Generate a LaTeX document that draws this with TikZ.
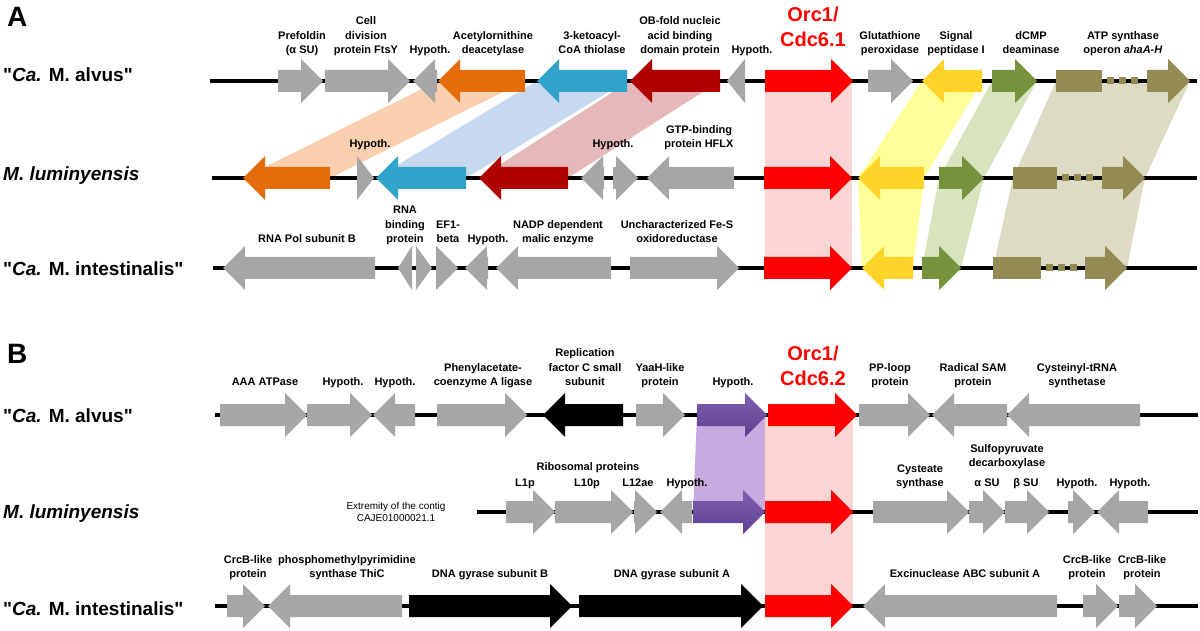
\documentclass[tikz,border=0pt]{standalone}
\usepackage{fontspec}
\setmainfont{Liberation Sans}
\newfontfamily\plainsans{Liberation Sans}
\usepackage{tikz}

\definecolor{genegray}{RGB}{166,166,166}
\definecolor{geneorange}{RGB}{228,108,10}
\definecolor{geneblue}{RGB}{49,163,202}
\definecolor{genedkred}{RGB}{176,0,0}
\definecolor{genered}{RGB}{255,0,0}
\definecolor{geneyellow}{RGB}{255,212,42}
\definecolor{genegreen}{RGB}{118,146,60}
\definecolor{geneolive}{RGB}{148,138,84}
\definecolor{purpletop}{RGB}{125,95,175}
\definecolor{purplebot}{RGB}{95,62,145}
\definecolor{bandorange}{RGB}{250,207,175}
\definecolor{bandblue}{RGB}{198,217,240}
\definecolor{bandpink}{RGB}{229,185,185}
\definecolor{bandred}{RGB}{252,213,213}
\definecolor{bandyellow}{RGB}{255,255,153}
\definecolor{bandgreen}{RGB}{215,228,190}
\definecolor{bandolive}{RGB}{222,219,197}
\definecolor{bandpurple}{RGB}{200,170,225}

% gene arrow: [fill] tail x, tip x, row y
\newcommand{\genearrow}[4][fill=genegray]{%
  \pgfmathsetmacro{\genelen}{#3-(#2)}%
  \pgfmathsetmacro{\genebase}{#3-sign(\genelen)*min(22,abs(\genelen))}%
  \path[#1] (#2,#4-11) -- (\genebase,#4-11) -- (\genebase,#4-22) -- (#3,#4)
    -- (\genebase,#4+22) -- (\genebase,#4+11) -- (#2,#4+11) -- cycle;}

\begin{document}
\begin{tikzpicture}[
    x=1pt, y=-1pt,
    lbl/.style = {font=\bfseries\fontsize{11}{14.5}\selectfont, align=center,
                  anchor=south, inner sep=0pt, text depth=0pt},
    orc/.style = {lbl, text=genered, font=\bfseries\fontsize{20}{25}\selectfont},
    species/.style = {anchor=base west, inner sep=0pt,
                      font=\plainsans\bfseries\fontsize{19}{22}\selectfont},
    panel/.style = {anchor=base west, inner sep=0pt,
                    font=\bfseries\fontsize{28}{30}\selectfont},
    note/.style = {font=\fontsize{10}{12.5}\selectfont, align=center,
                   anchor=south, inner sep=0pt, text depth=0pt},
    chrom/.style = {line width=3.5pt},
    ahadots/.style = {geneolive, line width=7pt, dash pattern=on 7pt off 5pt}
    ]

  \useasboundingbox (0,0) rectangle (1200,631);

  % panel letters and species
  \node[panel] (A) at (7,27) {A};
  \node[panel] (B) at (7,363) {B};
  \node[species] (alvusA) at (3,82) {"\textit{Ca.} M. alvus"};
  \node[species] (lumA) at (3,181) {\itshape M. luminyensis};
  \node[species] (intA) at (3,276) {"\textit{Ca.} M. intestinalis"};
  \node[species] (alvusB) at (3,422) {"\textit{Ca.} M. alvus"};
  \node[species] (lumB) at (3,518) {\itshape M. luminyensis};
  \node[species] (intB) at (3,615) {"\textit{Ca.} M. intestinalis"};

  %% ---------------- panel A ----------------
  % homology bands
  \fill[bandorange] (438,81) -- (525,81) -- (330,178) -- (243,178) -- cycle;
  \fill[bandblue] (537,81) -- (627,81) -- (466,178) -- (376,178) -- cycle;
  \fill[bandpink] (630,81) -- (720,81) -- (568,178) -- (479,178) -- cycle;
  \fill[bandred] (765,81) rectangle (852,268);
  \fill[bandyellow] (922,81) -- (982,81) -- (924,178) -- (913,268)
    -- (862,268) -- (858,178) -- cycle;
  \fill[bandgreen] (992,81) -- (1037,81) -- (984,178) -- (961,268)
    -- (922,268) -- (939,178) -- cycle;
  \fill[bandolive] (1056,81) -- (1190,81) -- (1145,178) -- (1127,268)
    -- (993,268) -- (1013,178) -- cycle;

  \coordinate (a1s) at (210,81);  \coordinate (a1e) at (1197,81);
  \coordinate (a2s) at (212,178); \coordinate (a2e) at (1197,178);
  \coordinate (a3s) at (213,268); \coordinate (a3e) at (1197,268);
  \draw[chrom] (a1s) -- (a1e);
  \draw[chrom] (a2s) -- (a2e);
  \draw[chrom] (a3s) -- (a3e);

  % row 1
  \genearrow{278}{323}{81}
  \genearrow{325}{410}{81}
  \genearrow{437}{413}{81}
  \genearrow[fill=geneorange]{525}{438}{81}
  \genearrow[fill=geneblue]{627}{537}{81}
  \genearrow[fill=genedkred]{720}{630}{81}
  \genearrow{745}{727}{81}
  \genearrow[fill=genered]{765}{853}{81}
  \genearrow{868}{913}{81}
  \genearrow[fill=geneyellow]{982}{922}{81}
  \genearrow[fill=genegreen]{992}{1037}{81}
  \fill[geneolive] (1056,70) rectangle (1102,92);
  \draw[ahadots] (1107,81) -- (1142,81);
  \genearrow[fill=geneolive]{1147}{1190}{81}

  % row 2
  \genearrow[fill=geneorange]{330}{243}{178}
  \genearrow{357}{374}{178}
  \genearrow[fill=geneblue]{466}{376}{178}
  \genearrow[fill=genedkred]{568}{479}{178}
  \genearrow{604}{581}{178}
  \genearrow{613}{638}{178}
  \genearrow{734}{647}{178}
  \genearrow[fill=genered]{764}{852}{178}
  \genearrow[fill=geneyellow]{924}{858}{178}
  \genearrow[fill=genegreen]{939}{984}{178}
  \fill[geneolive] (1013,167) rectangle (1057,189);
  \draw[ahadots] (1062,178) -- (1097,178);
  \genearrow[fill=geneolive]{1102}{1145}{178}

  % row 3
  \genearrow{375}{223}{268}
  \genearrow{412}{398}{268}
  \genearrow{416}{432}{268}
  \genearrow{436}{458}{268}
  \genearrow{488}{465}{268}
  \genearrow{611}{496}{268}
  \genearrow{630}{739}{268}
  \genearrow[fill=genered]{764}{852}{268}
  \genearrow[fill=geneyellow]{913}{862}{268}
  \genearrow[fill=genegreen]{922}{961}{268}
  \fill[geneolive] (993,257) rectangle (1041,279);
  \draw[ahadots] (1046,268) -- (1081,268);
  \genearrow[fill=geneolive]{1085}{1127}{268}

  % labels row 1
  \node[lbl] (pfd) at (302,54) {Prefoldin\\(α SU)};
  \node[lbl] (ftsy) at (366,54) {Cell\\division\\protein FtsY};
  \node[lbl] (hypa1) at (430,54) {Hypoth.};
  \node[lbl] (acet) at (493,54) {Acetylornithine\\deacetylase};
  \node[lbl] (thio) at (592,54) {3-ketoacyl-\\CoA thiolase};
  \node[lbl] (obfold) at (680,54) {OB-fold nucleic\\acid binding\\domain protein};
  \node[lbl] (hypa2) at (752,54) {Hypoth.};
  \node[orc] (orc1) at (813,47) {Orc1/\\Cdc6.1};
  \node[lbl] (gpx) at (890,54) {Glutathione\\peroxidase};
  \node[lbl] (spase) at (956,54) {Signal\\peptidase I};
  \node[lbl] (dcmp) at (1031,54) {dCMP\\deaminase};
  \node[lbl] (aha) at (1123,54) {ATP synthase\\operon \textit{ahaA-H}};
  % labels row 2
  \node[lbl] (hypa3) at (370,148) {Hypoth.};
  \node[lbl] (hypa4) at (613,148) {Hypoth.};
  \node[lbl] (hflx) at (699,148) {GTP-binding\\protein HFLX};
  % labels row 3
  \node[lbl] (rpob) at (307,243) {RNA Pol subunit B};
  \node[lbl] (rnab) at (405,243) {RNA\\binding\\protein};
  \node[lbl] (ef1) at (448,243) {EF1-\\beta};
  \node[lbl] (hypa5) at (488,243) {Hypoth.};
  \node[lbl] (nadp) at (558,243) {NADP dependent\\malic enzyme};
  \node[lbl] (fes) at (677,243) {Uncharacterized Fe-S\\oxidoreductase};

  %% ---------------- panel B ----------------
  \fill[bandpurple] (697,415) -- (767,415) -- (765,512) -- (693,512) -- cycle;
  \fill[bandred] (765,415) rectangle (853,606);

  \coordinate (b1s) at (215,415); \coordinate (b1e) at (1198,415);
  \coordinate (b2s) at (477,512); \coordinate (b2e) at (1198,512);
  \coordinate (b3s) at (215,606); \coordinate (b3e) at (1198,606);
  \draw[chrom] (b1s) -- (b1e);
  \draw[chrom] (b2s) -- (b2e);
  \draw[chrom] (b3s) -- (b3e);

  % row 1
  \genearrow{220}{307}{415}
  \genearrow{307}{372}{415}
  \genearrow{415}{373}{415}
  \genearrow{437}{527}{415}
  \genearrow[fill=black]{623}{543}{415}
  \genearrow{636}{685}{415}
  \genearrow[top color=purpletop, bottom color=purplebot]{697}{767}{415}
  \genearrow[fill=genered]{768}{857}{415}
  \genearrow{859}{930}{415}
  \genearrow{1007}{932}{415}
  \genearrow{1140}{1007}{415}

  % row 2
  \genearrow{506}{555}{512}
  \genearrow{555}{633}{512}
  \genearrow{634}{657}{512}
  \genearrow{692}{660}{512}
  \genearrow[top color=purpletop, bottom color=purplebot]{693}{765}{512}
  \genearrow[fill=genered]{765}{853}{512}
  \genearrow{873}{969}{512}
  \genearrow{969}{1005}{512}
  \genearrow{1005}{1049}{512}
  \genearrow{1068}{1095}{512}
  \genearrow{1148}{1097}{512}

  % row 3
  \genearrow{227}{265}{606}
  \genearrow{402}{268}{606}
  \genearrow[fill=black]{409}{572}{606}
  \genearrow[fill=black]{579}{763}{606}
  \genearrow[fill=genered]{765}{853}{606}
  \genearrow{1057}{863}{606}
  \genearrow{1083}{1118}{606}
  \genearrow{1119}{1157}{606}

  % labels row 1
  \node[lbl] (aaa) at (265,386) {AAA ATPase};
  \node[lbl] (hypb1) at (343,386) {Hypoth.};
  \node[lbl] (hypb2) at (395,386) {Hypoth.};
  \node[lbl] (paal) at (483,386) {Phenylacetate-\\coenzyme A ligase};
  \node[lbl] (rfc) at (585,386) {Replication\\factor C small\\subunit};
  \node[lbl] (yaah) at (660,386) {YaaH-like\\protein};
  \node[lbl] (hypb3) at (733,386) {Hypoth.};
  \node[orc] (orc2) at (813,386) {Orc1/\\Cdc6.2};
  \node[lbl] (pploop) at (890,386) {PP-loop\\protein};
  \node[lbl] (rsam) at (973,386) {Radical SAM\\protein};
  \node[lbl] (cysrs) at (1077,386) {Cysteinyl-tRNA\\synthetase};
  % labels row 2
  \node[note] (contig) at (396,522) {Extremity of the contig\\CAJE01000021.1};
  \node[lbl] (ribo) at (588,471) {Ribosomal proteins};
  \node[lbl] (l1p) at (525,487) {L1p};
  \node[lbl] (l10p) at (587,487) {L10p};
  \node[lbl] (l12ae) at (638,487) {L12ae};
  \node[lbl] (hypb4) at (687,487) {Hypoth.};
  \node[lbl] (cyss) at (920,487) {Cysteate\\synthase};
  \node[lbl] (spdc) at (1007,467) {Sulfopyruvate\\decarboxylase};
  \node[lbl] (alpha) at (987,487) {α SU};
  \node[lbl] (beta) at (1026,487) {β SU};
  \node[lbl] (hypb5) at (1077,487) {Hypoth.};
  \node[lbl] (hypb6) at (1130,487) {Hypoth.};
  % labels row 3
  \node[lbl] (crcb1) at (248,578) {CrcB-like\\protein};
  \node[lbl] (thic) at (347,578) {phosphomethylpyrimidine\\synthase ThiC};
  \node[lbl] (gyrb) at (490,578) {DNA gyrase subunit B};
  \node[lbl] (gyra) at (672,578) {DNA gyrase subunit A};
  \node[lbl] (uvra) at (965,578) {Excinuclease ABC subunit A};
  \node[lbl] (crcb2) at (1087,578) {CrcB-like\\protein};
  \node[lbl] (crcb3) at (1142,578) {CrcB-like\\protein};
\end{tikzpicture}
\end{document}
